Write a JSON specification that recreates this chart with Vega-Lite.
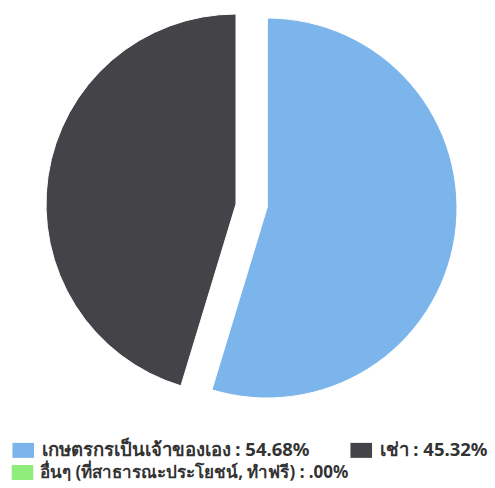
{
  "$schema": "https://vega.github.io/schema/vega-lite/v6.json",
  "width": 495,
  "height": 416,
  "padding": 0,
  "background": "white",
  "config": {"view": {"stroke": null}, "font": "Noto Sans"},
  "data": {
    "values": [
      {"category": "เกษตรกรเป็นเจ้าของเอง : 54.68%", "value": 54.68, "order": 1},
      {"category": "เช่า : 45.32%", "value": 45.32, "order": 2},
      {"category": "อื่นๆ (ที่สาธารณะประโยชน์, ทำฟรี) : .00%", "value": 0, "order": 3}
    ]
  },
  "encoding": {
    "theta": {"field": "value", "type": "quantitative", "stack": true},
    "order": {"field": "order", "type": "quantitative"}
  },
  "layer": [
    {
      "mark": {"type": "arc", "radius": 190, "xOffset": 19.5, "stroke": "white", "strokeWidth": 1},
      "encoding": {
        "color": {
          "field": "category",
          "type": "nominal",
          "sort": null,
          "scale": {
            "domain": ["เกษตรกรเป็นเจ้าของเอง : 54.68%", "เช่า : 45.32%", "อื่นๆ (ที่สาธารณะประโยชน์, ทำฟรี) : .00%"],
            "range": ["#7cb5ec", "#434348", "#90ed7d"]
          },
          "legend": {
            "title": null,
            "orient": "none",
            "legendX": 14,
            "legendY": 441,
            "direction": "horizontal",
            "columns": 2,
            "values": ["เกษตรกรเป็นเจ้าของเอง : 54.68%", "เช่า : 45.32%"],
            "symbolType": "M-1.44,-1H1.44V1H-1.44Z",
            "symbolSize": 225,
            "symbolStrokeWidth": 0,
            "labelFontSize": 18.5,
            "labelFontWeight": "bold",
            "labelColor": "#333333",
            "labelLimit": 400,
            "labelOffset": 9,
            "columnPadding": 40
          }
        },
        "opacity": {"condition": {"test": "datum.category === 'เช่า : 45.32%'", "value": 0}, "value": 1}
      }
    },
    {
      "mark": {"type": "arc", "radius": 190, "xOffset": -11.5, "yOffset": -4, "stroke": "white", "strokeWidth": 1},
      "encoding": {
        "color": {"field": "category", "type": "nominal", "sort": null},
        "opacity": {"condition": {"test": "datum.category === 'เช่า : 45.32%'", "value": 1}, "value": 0}
      }
    },
    {
      "transform": [{"filter": "datum.order === 3"}],
      "mark": {"type": "arc", "radius": 190, "xOffset": 19.5, "strokeWidth": 0},
      "encoding": {
        "fill": {
          "field": "category",
          "type": "nominal",
          "scale": {"range": ["#90ed7d"]},
          "legend": {
            "title": null,
            "orient": "none",
            "legendX": 14,
            "legendY": 464,
            "symbolType": "M-1.44,-1H1.44V1H-1.44Z",
            "symbolSize": 225,
            "symbolStrokeWidth": 0,
            "labelFontSize": 17,
            "labelFontWeight": "bold",
            "labelColor": "#333333",
            "labelLimit": 400,
            "labelOffset": 9
          }
        }
      }
    }
  ]
}
